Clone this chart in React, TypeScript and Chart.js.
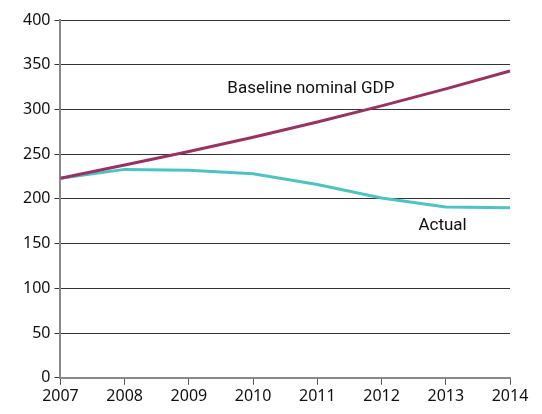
import React, { useEffect, useRef } from "react";
import { Chart, registerables } from "chart.js";

Chart.register(...registerables);

const years = ["2007", "2008", "2009", "2010", "2011", "2012", "2013", "2014"];
const baseline = [223, 238, 253, 269, 286, 304, 323, 343];
const actual = [223, 233, 232, 228, 216, 201, 191, 190];
const baselineLabel = "Baseline nominal GDP";
const actualLabel = "Actual";

const labelPlugin = {
  id: "lineLabels",
  afterDatasetsDraw(chart: any) {
    const { ctx, scales } = chart;
    const x = scales.x;
    const y = scales.y;
    ctx.save();
    ctx.fillStyle = "#111";
    ctx.font = "17px 'Liberation Sans Narrow', 'Roboto', sans-serif";
    ctx.textBaseline = "middle";
    ctx.textAlign = "center";
    ctx.fillText(baselineLabel, x.getPixelForValue(3.9), y.getPixelForValue(323));
    ctx.fillText(actualLabel, x.getPixelForValue(5.95), y.getPixelForValue(170));
    ctx.restore();
  },
};

export default function App() {
  const ref = useRef<HTMLCanvasElement>(null);
  useEffect(() => {
    if (!ref.current) return;
    const chart = new Chart(ref.current, {
      type: "line",
      data: {
        labels: years,
        datasets: [
          {
            label: baselineLabel,
            data: baseline,
            borderColor: "#9b3163",
            borderWidth: 3,
            pointRadius: 0,
            tension: 0,
          },
          {
            label: actualLabel,
            data: actual,
            borderColor: "#4cc4c6",
            borderWidth: 3,
            pointRadius: 0,
            tension: 0,
          },
        ],
      },
      options: {
        responsive: false,
        animation: false,
        layout: { padding: { top: 20, right: 32, left: 19, bottom: 6 } },
        plugins: { legend: { display: false }, tooltip: { enabled: false } },
        scales: {
          x: {
            offset: false,
            grid: {
              drawOnChartArea: false,
              drawTicks: true,
              tickLength: 7,
              color: "#555",
            },
            border: { color: "#888", width: 2 },
            ticks: {
              color: "#111",
              font: { family: "'Noto Sans', sans-serif", size: 16 },
              maxRotation: 0,
              padding: 2,
            },
          },
          y: {
            min: 0,
            max: 400,
            grid: { color: "#333", lineWidth: 1, tickLength: 6 },
            border: { color: "#888", width: 2 },
            ticks: {
              stepSize: 50,
              color: "#111",
              font: { family: "'Noto Sans', sans-serif", size: 16 },
              padding: 4,
            },
          },
        },
      },
      plugins: [labelPlugin],
    });
    return () => chart.destroy();
  }, []);
  return (
    <div style={{ position: "fixed", left: 0, top: 0, width: 542, height: 414, background: "#fff" }}>
      <canvas ref={ref} width={542} height={414} style={{ width: 542, height: 414 }} />
    </div>
  );
}
